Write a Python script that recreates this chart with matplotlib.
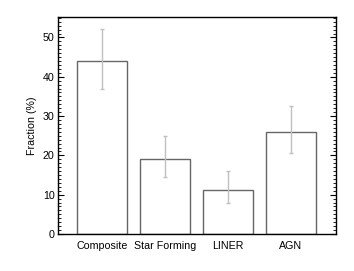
import matplotlib
matplotlib.use("Agg")
import matplotlib.pyplot as plt
from matplotlib.ticker import MultipleLocator

categories = ["Composite", "Star Forming", "LINER", "AGN"]
values = [44.0, 19.1, 11.2, 25.9]
err_upper = [8.1, 5.9, 4.9, 6.7]
err_lower = [7.1, 4.6, 3.3, 5.3]

plt.rcParams['font.family'] = ['Liberation Sans', 'DejaVu Sans']
fig = plt.figure(figsize=(3.54, 2.71), dpi=100)
ax = fig.add_axes([57.5/354, 1-234/271, (335.7-57.5)/354, (234-17)/271])

x = list(range(len(categories)))
ax.bar(x, values, width=0.8, facecolor='white', edgecolor='#666666', linewidth=1.0, zorder=2)
ax.errorbar(x, values, yerr=[err_lower, err_upper], fmt='none', ecolor='#c0c0c0',
            elinewidth=1.0, capsize=1.5, capthick=1.0, zorder=3)

ax.set_xlim(-0.71, 3.71)
ax.set_ylim(0, 55.2)
ax.set_xticks(x)
ax.set_xticklabels(categories, fontsize=7.7)
ax.yaxis.set_major_locator(MultipleLocator(10))
ax.yaxis.set_minor_locator(MultipleLocator(1))
ax.tick_params(axis='y', which='both', direction='in', left=True, right=True, labelsize=7.7, pad=2)
ax.tick_params(axis='y', which='major', length=4, width=0.8)
ax.tick_params(axis='y', which='minor', length=2, width=0.6)
ax.tick_params(axis='x', which='both', direction='in', top=False, length=3, width=0.8, pad=5)
ax.set_ylabel("Fraction (%)", fontsize=7.7, labelpad=4)
for s in ax.spines.values():
    s.set_linewidth(1.0)
    s.set_zorder(4)

fig.savefig("out.png", dpi=100)
